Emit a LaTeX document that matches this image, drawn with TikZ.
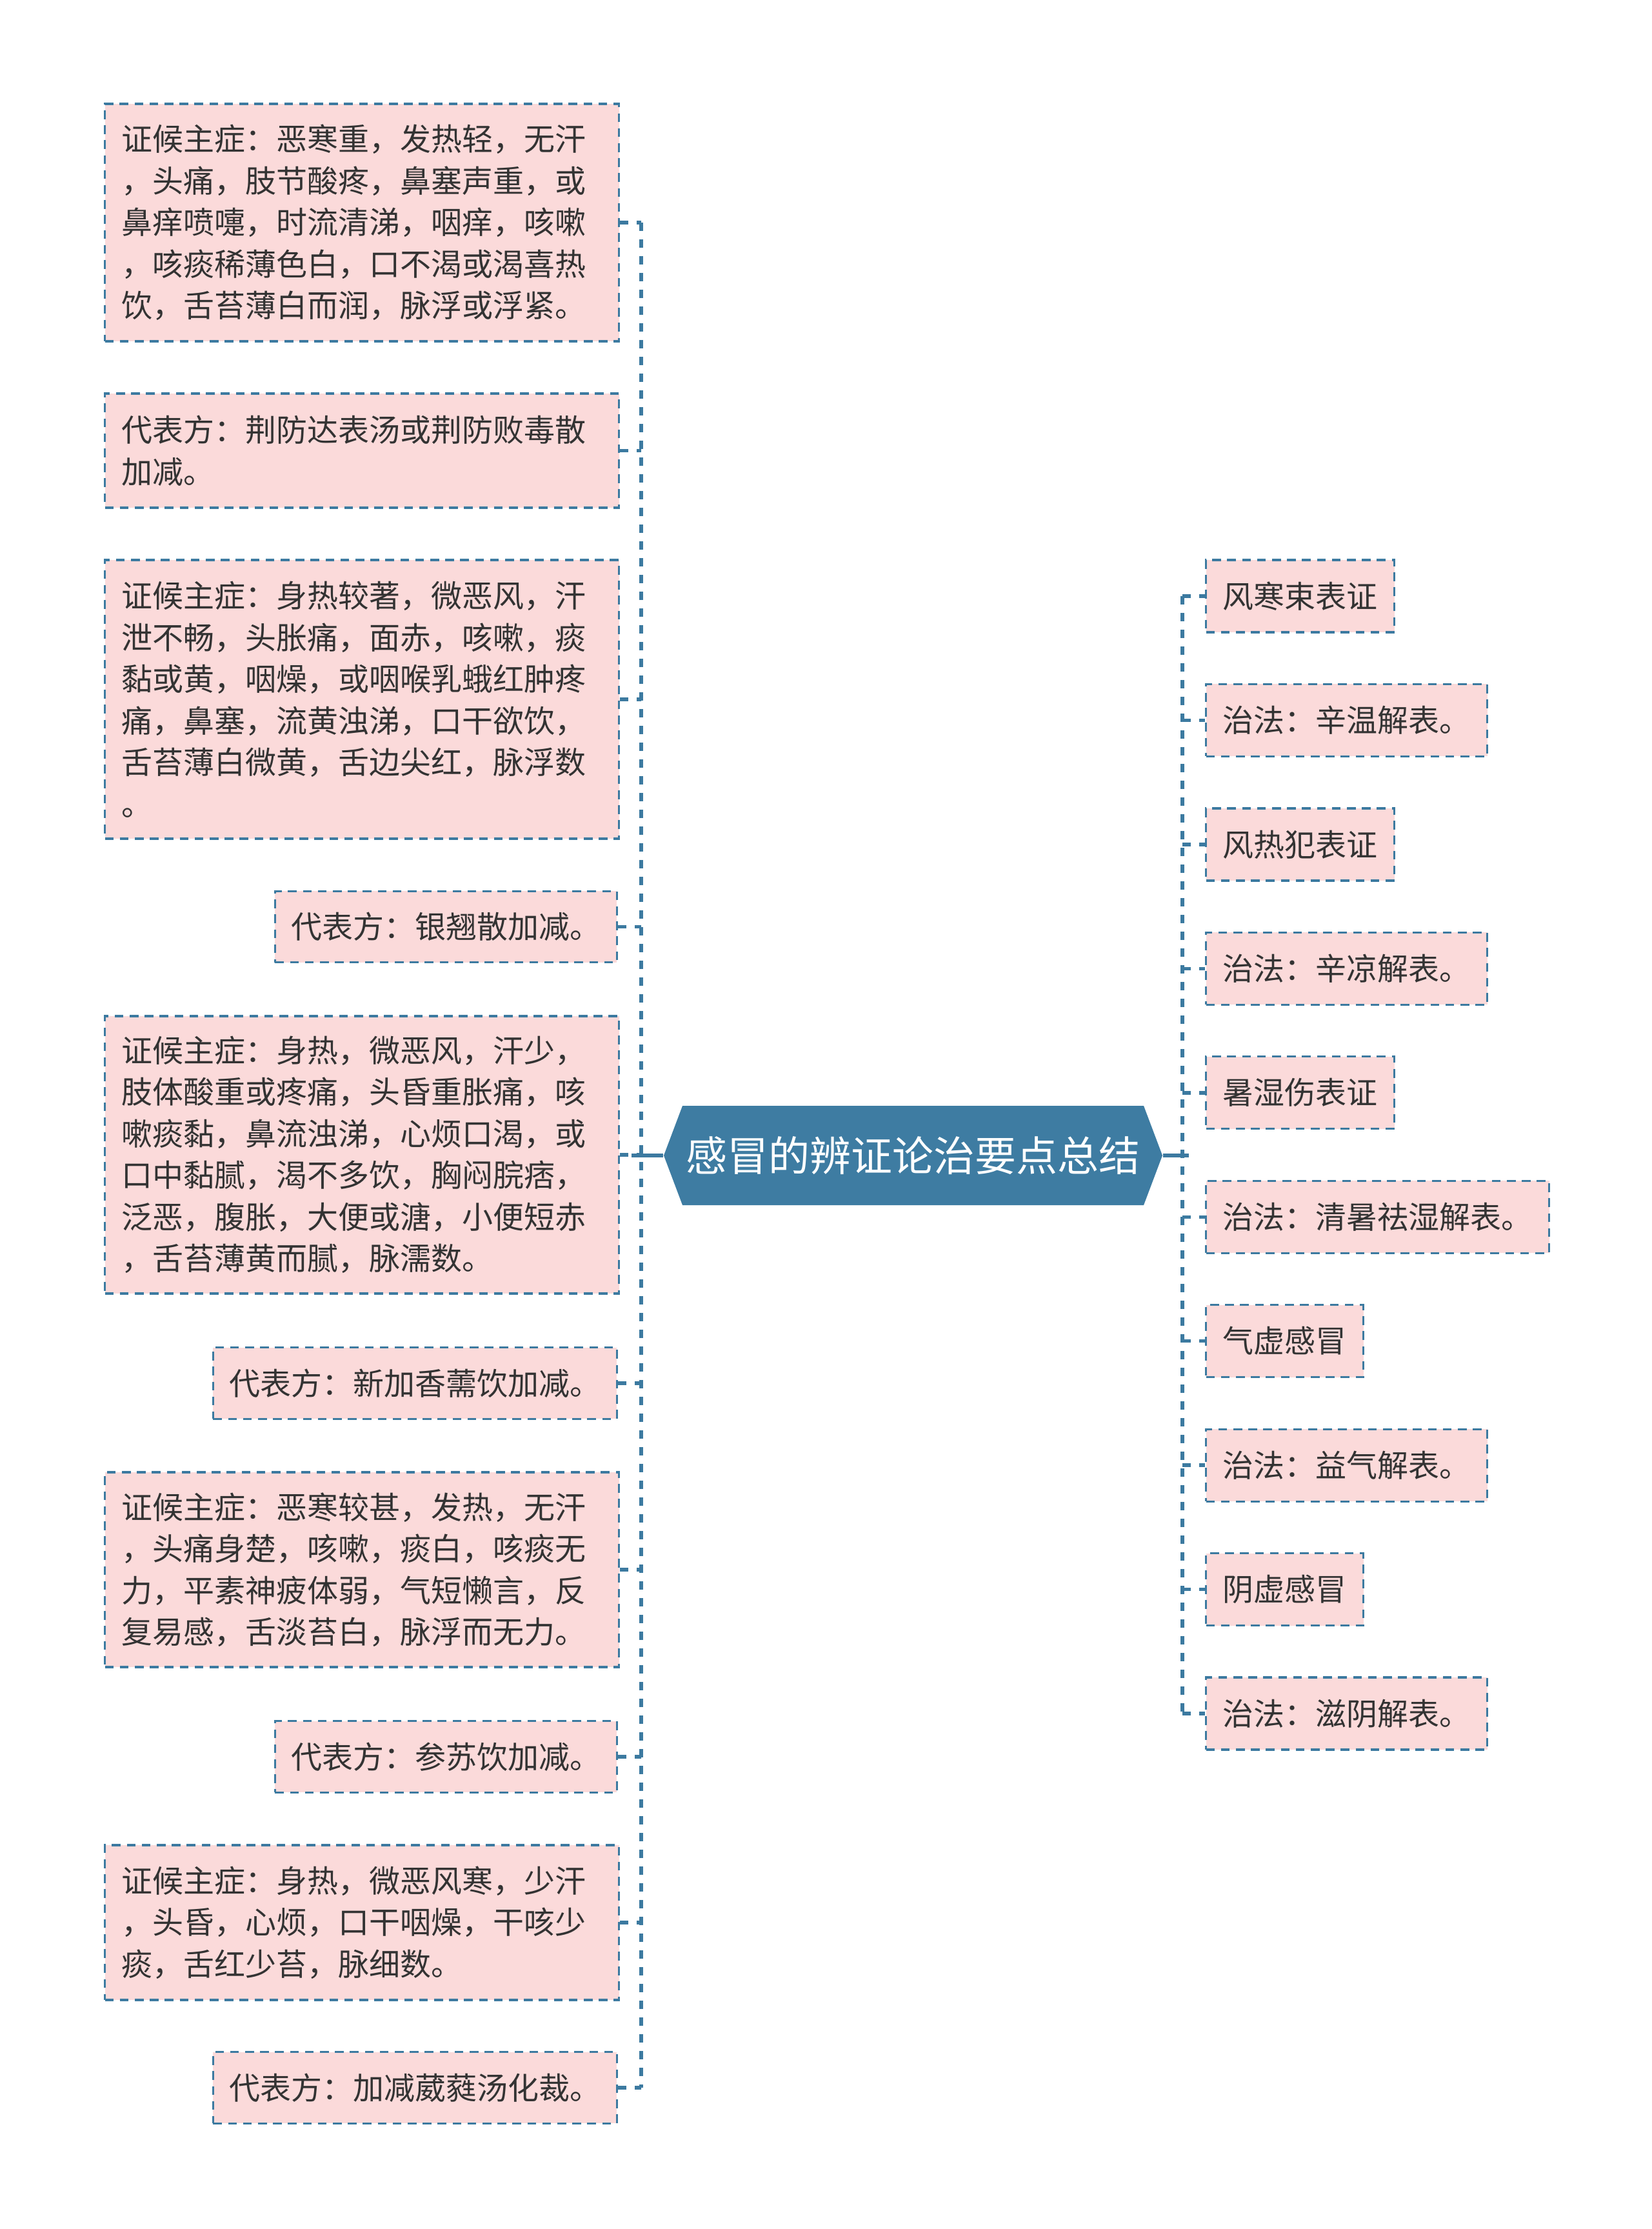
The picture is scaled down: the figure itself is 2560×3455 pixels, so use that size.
\documentclass[tikz,border=0pt]{standalone}
\usepackage{fontspec}
\setmainfont{Noto Sans CJK SC}
\usetikzlibrary{shapes.symbols}
\definecolor{linec}{RGB}{60,122,160}
\definecolor{hexc}{RGB}{62,124,162}
\definecolor{boxc}{RGB}{251,218,218}
\definecolor{textc}{RGB}{51,51,51}
\begin{document}
\begin{tikzpicture}[x=0.25pt,y=-0.25pt,
  boxbase/.style={draw=linec, line width=0.8pt, dash pattern=on 3.4pt off 2.4pt,
    fill=boxc, text=textc, font=\fontsize{12pt}{16.125pt}\selectfont, inner ysep=0pt},
  longbox/.style={boxbase, anchor=west, text width=186.25pt, inner xsep=6.5pt, align=left, minimum height=#1},
  shortl/.style={boxbase, anchor=east, inner xsep=6.25pt, minimum height=27.6pt},
  rbox/.style={boxbase, anchor=west, inner xsep=6.5pt, minimum height=28pt},
  conn/.style={draw=linec, line width=1.35pt, dash pattern=on 3.2pt off 3.3pt},
  solidc/.style={draw=linec, line width=1.35pt},
  rootstyle/.style={signal, signal to=west and east, signal pointer angle=138.7,
    fill=hexc, text=white, font=\fontsize{16pt}{19pt}\selectfont,
    minimum width=193.25pt, minimum height=38.5pt, inner sep=0pt}]
\useasboundingbox (0,0) rectangle (2560,3455);

\node[rootstyle] (root) at (1415.5,1791) {感冒的辨证论治要点总结};

\coordinate (LT) at (994,0);
\coordinate (RT) at (1833,0);

% left side
\node[longbox=92pt] (L1) at (161,345) {证候主症：恶寒重，发热轻，无汗\\，头痛，肢节酸疼，鼻塞声重，或\\鼻痒喷嚏，时流清涕，咽痒，咳嗽\\，咳痰稀薄色白，口不渴或渴喜热\\饮，舌苔薄白而润，脉浮或浮紧。};
\node[longbox=44.25pt] (L2) at (161,698.5) {代表方：荆防达表汤或荆防败毒散\\加减。};
\node[longbox=108pt] (L3) at (161,1084) {证候主症：身热较著，微恶风，汗\\泄不畅，头胀痛，面赤，咳嗽，痰\\黏或黄，咽燥，或咽喉乳蛾红肿疼\\痛，鼻塞，流黄浊涕，口干欲饮，\\舌苔薄白微黄，舌边尖红，脉浮数\\。};
\node[shortl] (L4) at (958,1436.5) {代表方：银翘散加减。};
\node[longbox=107.5pt] (L5) at (161,1790) {证候主症：身热，微恶风，汗少，\\肢体酸重或疼痛，头昏重胀痛，咳\\嗽痰黏，鼻流浊涕，心烦口渴，或\\口中黏腻，渴不多饮，胸闷脘痞，\\泛恶，腹胀，大便或溏，小便短赤\\，舌苔薄黄而腻，脉濡数。};
\node[shortl] (L6) at (958,2144) {代表方：新加香薷饮加减。};
\node[longbox=75.5pt] (L7) at (161,2433) {证候主症：恶寒较甚，发热，无汗\\，头痛身楚，咳嗽，痰白，咳痰无\\力，平素神疲体弱，气短懒言，反\\复易感，舌淡苔白，脉浮而无力。};
\node[shortl] (L8) at (958,2723) {代表方：参苏饮加减。};
\node[longbox=60pt] (L9) at (161,2980) {证候主症：身热，微恶风寒，少汗\\，头昏，心烦，口干咽燥，干咳少\\痰，舌红少苔，脉细数。};
\node[shortl] (L10) at (958,3236) {代表方：加减葳蕤汤化裁。};

% right side
\node[rbox] (R1) at (1868,924) {风寒束表证};
\node[rbox] (R2) at (1868,1116.4) {治法：辛温解表。};
\node[rbox] (R3) at (1868,1308.9) {风热犯表证};
\node[rbox] (R4) at (1868,1501.3) {治法：辛凉解表。};
\node[rbox] (R5) at (1868,1693.8) {暑湿伤表证};
\node[rbox] (R6) at (1868,1886.2) {治法：清暑祛湿解表。};
\node[rbox] (R7) at (1868,2078.6) {气虚感冒};
\node[rbox] (R8) at (1868,2271.1) {治法：益气解表。};
\node[rbox] (R9) at (1868,2463.5) {阴虚感冒};
\node[rbox] (R10) at (1868,2656) {治法：滋阴解表。};

% trunks
\draw[conn] (L1.east -| LT) -- (L10.east -| LT);
\draw[conn] (R1.west -| RT) -- (R10.west -| RT);
\foreach \n in {L1,L2,L3,L4,L5,L6,L7,L8,L9,L10}
  \draw[conn] (\n.east) -- (\n.east -| LT);
\foreach \n in {R1,R2,R3,R4,R5,R6,R7,R8,R9,R10}
  \draw[conn] (RT |- \n.west) -- (\n.west);
\draw[solidc] (root.west) -- ++(-49,0);
\draw[solidc] (root.east) -- ++(40,0);
\end{tikzpicture}
\end{document}
